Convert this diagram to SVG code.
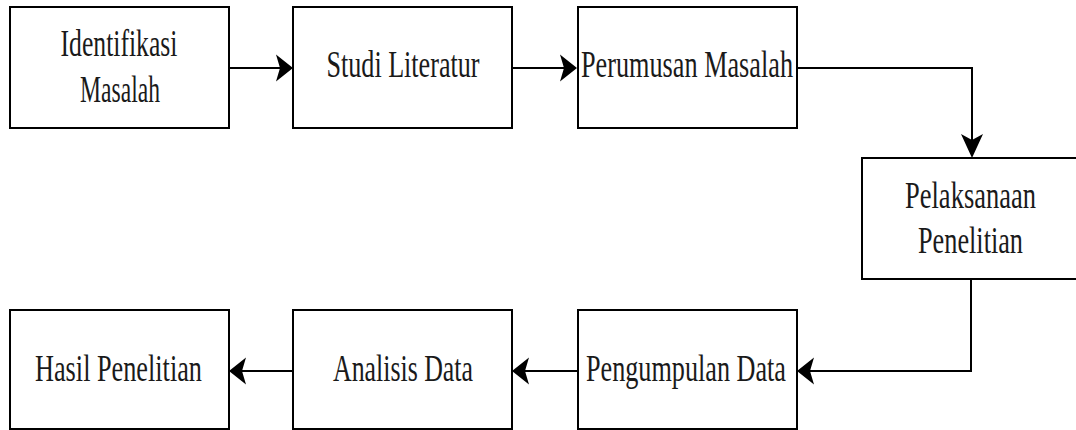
<svg xmlns="http://www.w3.org/2000/svg" width="1076" height="430" viewBox="0 0 1076 430">
<style>
.box{fill:#fff;stroke:#000;stroke-width:2}
.lbl{font-family:"Liberation Serif","Times New Roman",serif;font-size:38px;fill:#1a1a1a;text-anchor:middle}
.line{fill:none;stroke:#000;stroke-width:2}
.head{fill:#000;stroke:none}
</style>
<rect width="1076" height="430" fill="#fff"/>
<g id="connectors">
<path class="line" d="M229,68 H280"/>
<path class="head" d="M293,68 L276,54.5 L280,68 L276,81.5 Z"/>
<path class="line" d="M512,68 H564"/>
<path class="head" d="M577,68 L560,54.5 L564,68 L560,81.5 Z"/>
<path class="line" d="M797,68 H972 V140"/>
<path class="head" d="M972,158 L961,134 L972,140 L983,134 Z"/>
<path class="line" d="M971,279 V371 H810"/>
<path class="head" d="M797,371 L814,357.5 L810,371 L814,384.5 Z"/>
<path class="line" d="M578,371 H525"/>
<path class="head" d="M512,371 L529,357.5 L525,371 L529,384.5 Z"/>
<path class="line" d="M293,371 H242"/>
<path class="head" d="M229,371 L246,357.5 L242,371 L246,384.5 Z"/>
</g>
<g id="n1">
<rect class="box" x="10" y="7" width="219" height="121"/>
<text class="lbl" x="119" y="56" textLength="117" lengthAdjust="spacingAndGlyphs">Identifikasi</text>
<text class="lbl" x="120" y="102" textLength="80" lengthAdjust="spacingAndGlyphs">Masalah</text>
</g>
<g id="n2">
<rect class="box" x="293" y="7" width="219" height="121"/>
<text class="lbl" x="403" y="77" textLength="153" lengthAdjust="spacingAndGlyphs">Studi Literatur</text>
</g>
<g id="n3">
<rect class="box" x="578" y="7" width="219" height="121"/>
<text class="lbl" x="687" y="77" textLength="212" lengthAdjust="spacingAndGlyphs">Perumusan Masalah</text>
</g>
<g id="n4">
<rect class="box" x="862" y="158" width="219" height="121"/>
<text class="lbl" x="970.5" y="208" textLength="131" lengthAdjust="spacingAndGlyphs">Pelaksanaan</text>
<text class="lbl" x="970.5" y="253" textLength="105" lengthAdjust="spacingAndGlyphs">Penelitian</text>
</g>
<g id="n5">
<rect class="box" x="578" y="310" width="219" height="119"/>
<text class="lbl" x="686" y="381" textLength="200" lengthAdjust="spacingAndGlyphs">Pengumpulan Data</text>
</g>
<g id="n6">
<rect class="box" x="293" y="310" width="219" height="119"/>
<text class="lbl" x="403" y="381" textLength="140" lengthAdjust="spacingAndGlyphs">Analisis Data</text>
</g>
<g id="n7">
<rect class="box" x="10" y="310" width="219" height="119"/>
<text class="lbl" x="118.5" y="381" textLength="167" lengthAdjust="spacingAndGlyphs">Hasil Penelitian</text>
</g>
</svg>
